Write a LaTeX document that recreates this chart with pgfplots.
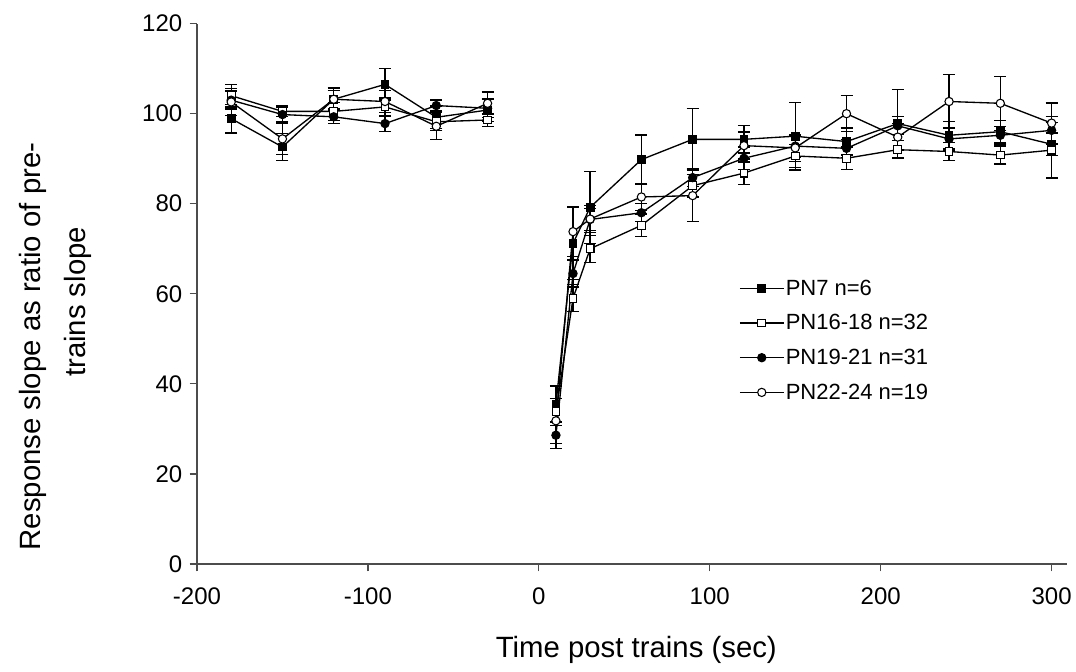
\documentclass[border=0pt]{standalone}
\usepackage{fontspec}
\setmainfont{Liberation Sans}
\usepackage{pgfplots}
\pgfplotsset{compat=1.18}
\usepackage{pgfplotstable}

% PN7 n=6
\pgfplotstableread{
x y e
-180 98.9 3.2
-150 92.6 3.0
-120 103.2 2.5
-90 106.5 3.5
-60 99.2 2.5
-30 100.8 2.5
}\pnApre
\pgfplotstableread{
x y e
10 35.5 4.0
20 71.2 8.0
30 79.2 8.0
60 89.8 5.5
90 94.3 6.8
120 94.3 3.0
150 95.0 7.5
180 93.8 3.0
210 97.8 7.5
240 95.2 3.0
270 96.0 2.5
300 93.2 2.5
}\pnApost
% PN16-18 n=32
\pgfplotstableread{
x y e
-180 104.0 2.5
-150 100.5 1.2
-120 100.5 2.0
-90 101.5 2.0
-60 98.2 2.0
-30 98.6 1.5
}\pnBpre
\pgfplotstableread{
x y e
10 33.8 3.0
20 59.0 3.0
30 70.0 3.0
60 75.2 2.5
90 84.0 2.5
120 86.8 2.5
150 90.6 2.5
180 90.1 2.5
210 92.0 2.0
240 91.6 2.0
270 90.8 2.0
300 91.9 6.2
}\pnBpost
% PN19-21 n=31
\pgfplotstableread{
x y e
-180 103.0 2.0
-150 99.8 1.5
-120 99.3 1.5
-90 97.8 1.8
-60 101.8 1.2
-30 101.2 2.0
}\pnCpre
\pgfplotstableread{
x y e
10 28.6 3.0
20 64.5 3.0
30 76.5 2.5
60 78.0 2.0
90 85.8 2.0
120 90.1 2.5
150 92.8 2.5
180 92.3 2.0
210 97.3 2.0
240 94.4 2.5
270 95.2 2.0
300 96.3 3.0
}\pnCpost
% PN22-24 n=19
\pgfplotstableread{
x y e
-180 102.6 3.0
-150 94.4 3.5
-120 103.2 2.0
-90 102.7 2.5
-60 97.2 3.0
-30 102.3 2.5
}\pnDpre
\pgfplotstableread{
x y e
10 31.8 5.0
20 73.8 5.5
30 76.6 3.0
60 81.5 3.0
90 81.8 5.8
120 92.9 3.0
150 92.4 3.0
180 100.0 4.0
210 94.8 3.0
240 102.7 6.0
270 102.3 6.0
300 97.9 4.5
}\pnDpost

\begin{document}
\begin{tikzpicture}
\begin{axis}[
  scale only axis, width=652.5pt, height=405.3pt,
  xmin=-200, xmax=309, ymin=0, ymax=120,
  axis x line*=bottom, axis y line*=left,
  axis line style={line width=0.9pt, black!70},
  xtick={-200,-100,0,100,200,300},
  xticklabels={-200,-100,0,100,200,300},
  ytick={0,20,40,60,80,100,120},
  yticklabels={0,20,40,60,80,100,120},
  xtick align=outside, ytick align=outside, major tick length=5.5pt,
  tick style={black!70, line width=0.9pt},
  ticklabel style={font=\fontsize{18}{21}\selectfont},
  xticklabel shift=9pt, yticklabel shift=2pt,
  xlabel={Time post trains (sec)},
  ylabel={\hspace*{-67pt}Response slope as ratio of pre-\\trains slope},
  xlabel style={font=\fontsize{22}{26}\selectfont, at={(axis description cs:0.505,-0.159)}, anchor=center},
  ylabel style={font=\fontsize{22}{34}\selectfont, align=center, at={(axis description cs:-0.163,0.485)}, anchor=center},
  clip=false,
  error bars/y dir=both, error bars/y explicit,
  error bars/error bar style={line width=1pt, black},
  error bars/error mark options={rotate=90, mark size=4.5pt, line width=1pt, black},
  every axis plot/.append style={line width=1pt, black},
  legend style={at={(axis cs:117,63.5)}, anchor=north west, draw=none, fill=none,
    font=\fontsize{16.5}{20}\selectfont, row sep=11pt, inner sep=0pt,
    nodes={inner sep=1pt}},
  legend cell align=left,
  legend image code/.code={\draw[#1, mark repeat=2, mark phase=2] plot coordinates {(0pt,0pt) (16.5pt,0pt) (33pt,0pt)};},
]
\addplot[mark=square*, mark size=2.9pt, mark options={fill=black, solid, line width=0.8pt}] table[x=x,y=y,y error=e]{\pnApre};
\addlegendentry{PN7 n=6}
\addplot[mark=square*, mark size=2.9pt, mark options={fill=white, solid, line width=0.8pt}] table[x=x,y=y,y error=e]{\pnBpre};
\addlegendentry{PN16-18 n=32}
\addplot[mark=*, mark size=3.1pt, mark options={fill=black, solid, line width=0.8pt}] table[x=x,y=y,y error=e]{\pnCpre};
\addlegendentry{PN19-21 n=31}
\addplot[mark=*, mark size=3.1pt, mark options={fill=white, solid, line width=0.8pt}] table[x=x,y=y,y error=e]{\pnDpre};
\addlegendentry{PN22-24 n=19}
\addplot[forget plot, mark=square*, mark size=2.9pt, mark options={fill=black, solid, line width=0.8pt}] table[x=x,y=y,y error=e]{\pnApost};
\addplot[forget plot, mark=square*, mark size=2.9pt, mark options={fill=white, solid, line width=0.8pt}] table[x=x,y=y,y error=e]{\pnBpost};
\addplot[forget plot, mark=*, mark size=3.1pt, mark options={fill=black, solid, line width=0.8pt}] table[x=x,y=y,y error=e]{\pnCpost};
\addplot[forget plot, mark=*, mark size=3.1pt, mark options={fill=white, solid, line width=0.8pt}] table[x=x,y=y,y error=e]{\pnDpost};
\end{axis}
\pgfresetboundingbox
\path (-147.75pt,-81pt) rectangle (659.25pt,423pt);
\end{tikzpicture}
\end{document}
